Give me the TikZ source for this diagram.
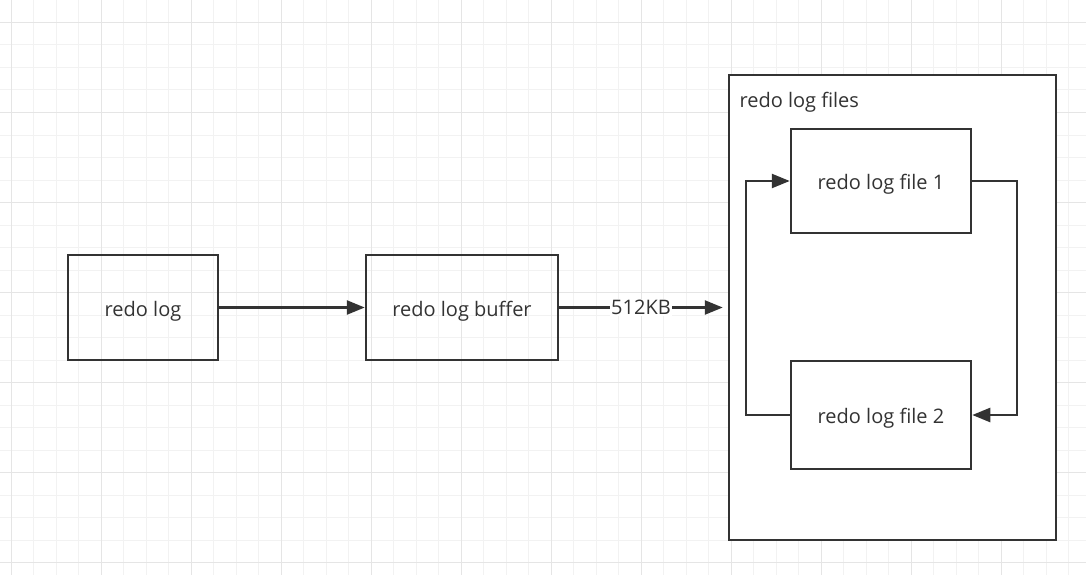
\documentclass[tikz,border=0pt]{standalone}
\usepackage{fontspec}
\setmainfont{Open Sans}
\usetikzlibrary{positioning, arrows.meta}
\definecolor{linegray}{HTML}{333333}
\definecolor{gridminor}{HTML}{F2F2F2}
\definecolor{gridmajor}{HTML}{E5E5E5}
\tikzset{
    block/.style={
        draw=linegray,
        line width=2.5pt,
        rectangle,
        minimum width=150pt,
        minimum height=105pt,
        inner sep=0pt,
        text height=17pt,
        text depth=0pt,
        font=\fontsize{20pt}{24pt}\selectfont,
        text=linegray,
    },
    flow/.style={
        draw=linegray,
        line width=2.5pt,
        -{Triangle[length=18pt,width=14pt]},
    }
}

\begin{document}
\begin{tikzpicture}[x=1pt, y=-1pt]
   \useasboundingbox (0,0) rectangle (1086,575);
   \fill[white] (0,0) rectangle (1086,575);
   % background grid
   \foreach \gx in {0,...,48} {
      \draw[gridminor, line width=1pt] (11.3+22.5*\gx,0) -- (11.3+22.5*\gx,575);
   }
   \foreach \gy in {0,...,25} {
      \draw[gridminor, line width=1pt] (0,22.5*\gy) -- (1086,22.5*\gy);
   }
   \foreach \gx in {0,...,12} {
      \draw[gridmajor, line width=1pt] (11.3+90*\gx,0) -- (11.3+90*\gx,575);
   }
   \foreach \gy in {0,...,6} {
      \draw[gridmajor, line width=1pt] (0,22.5+90*\gy) -- (1086,22.5+90*\gy);
   }

   \node[block, fill=white] (files) at (892.5,307.5) [minimum width=327pt, minimum height=465pt] {};
   \node[anchor=base west, font=\fontsize{20pt}{24pt}\selectfont, text=linegray] (fileslabel) at (736,108) {redo log files};

   \node[block] (log) at (143,307.5) {redo log};
   \node[block, minimum width=192pt, right=145.5pt of log] (buffer) {redo log buffer};

   \node[block, minimum width=180pt, minimum height=104pt] (f1) at (881,181) {redo log file 1};
   \node[block, minimum width=180pt, minimum height=108pt] (f2) at (881,415) {redo log file 2};

   \coordinate (in) at (files.west |- buffer.east);
   \coordinate (lt) at (746,0);
   \coordinate (rt) at (1017,0);

   \draw[flow] (log.east) to (buffer.west);
   \draw[flow] (buffer.east) to node[fill=white, inner sep=1pt, text=linegray, font=\fontsize{20pt}{24pt}\selectfont] {512KB} ([xshift=-5pt]in);
   \draw[flow] (f2.west) -| (lt |- f2.west) |- (f1.west);
   \draw[flow] (f1.east) -| (rt |- f1.east) |- (f2.east);
\end{tikzpicture}
\end{document}
